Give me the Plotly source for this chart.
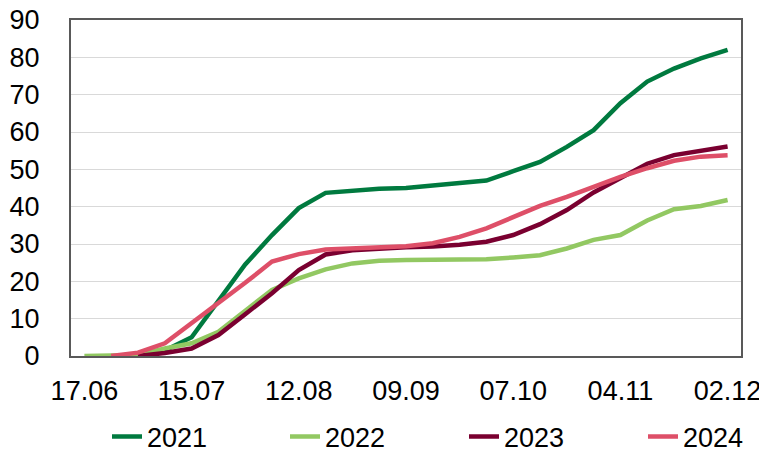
import plotly.graph_objects as go

dates = ["17.06", "24.06", "01.07", "08.07", "15.07", "22.07", "29.07", "05.08", "12.08",
         "19.08", "26.08", "02.09", "09.09", "16.09", "23.09", "30.09", "07.10", "14.10",
         "21.10", "28.10", "04.11", "11.11", "18.11", "25.11", "02.12"]
tick_labels = ["17.06", "15.07", "12.08", "09.09", "07.10", "04.11", "02.12"]

s2021 = [None, None, 0.3, 1.5, 5.0, 15.0, 24.5, 32.4, 39.6, 43.7, 44.3, 44.8, 45.0, 45.7,
         46.4, 47.0, 49.5, 52.0, 56.0, 60.5, 67.7, 73.5, 77.0, 79.7, 82.0]
s2022 = [0.0, 0.0, 0.3, 2.0, 3.4, 6.5, 12.0, 17.7, 20.8, 23.2, 24.8, 25.5, 25.7, 25.8,
         25.9, 25.9, 26.4, 27.0, 28.8, 31.1, 32.4, 36.3, 39.3, 40.2, 41.8]
s2023 = [None, None, 0.0, 0.8, 2.0, 5.6, 11.2, 16.8, 23.0, 27.2, 28.3, 28.8, 29.1, 29.3,
         29.8, 30.6, 32.4, 35.3, 39.1, 43.8, 47.8, 51.5, 53.8, 55.0, 56.1]
s2024 = [None, 0.0, 0.9, 3.4, 8.8, 14.0, 19.6, 25.3, 27.3, 28.5, 28.8, 29.1, 29.4, 30.2,
         31.9, 34.2, 37.3, 40.2, 42.6, 45.3, 48.0, 50.3, 52.3, 53.4, 53.8]

series = [
    ("2021", s2021, "#007a3f"),
    ("2022", s2022, "#92c862"),
    ("2023", s2023, "#7a0030"),
    ("2024", s2024, "#de4f68"),
]

# figure is drawn inside the page body (8px default margin), so size it to fit
W, H = 759, 441
legend_left_px = [99, 277, 456, 635]

font = dict(family="Liberation Sans, Arial, sans-serif", size=27, color="#000000")

fig = go.Figure()
legend_layout = {}
for k, (name, vals, col) in enumerate(series):
    lg = "legend" if k == 0 else f"legend{k + 1}"
    fig.add_trace(go.Scatter(x=dates, y=vals, name=name, mode="lines",
                             line=dict(color=col, width=4.5), legend=lg))
    legend_layout[lg] = dict(
        orientation="h", xref="container", yref="container",
        x=legend_left_px[k] / W, xanchor="left",
        y=1 - 429 / H, yanchor="middle",
        font=font, bgcolor="rgba(0,0,0,0)",
    )

fig.update_layout(
    width=W, height=H,
    margin=dict(l=63, r=26, t=12, b=93, autoexpand=False),
    paper_bgcolor="white", plot_bgcolor="white",
    font=font,
    showlegend=True,
    **legend_layout,
)
fig.update_xaxes(
    type="category", range=[-0.5, 24.5],
    tickvals=tick_labels, ticktext=tick_labels,
    showgrid=False, showline=True, linecolor="#595959", linewidth=2, mirror=True,
    ticks="outside", ticklen=10, tickcolor="rgba(0,0,0,0)", tickfont=font,
    ticklabeloverflow="allow",
    zeroline=False,
)
fig.update_yaxes(
    range=[0, 90], dtick=10, tick0=0,
    showgrid=True, gridcolor="#d9d9d9", gridwidth=1,
    showline=True, linecolor="#595959", linewidth=2, mirror=True,
    ticks="outside", ticklen=24, tickcolor="rgba(0,0,0,0)", tickfont=font,
    ticklabeloverflow="allow",
    zeroline=False,
)

fig.write_html("out.html")
